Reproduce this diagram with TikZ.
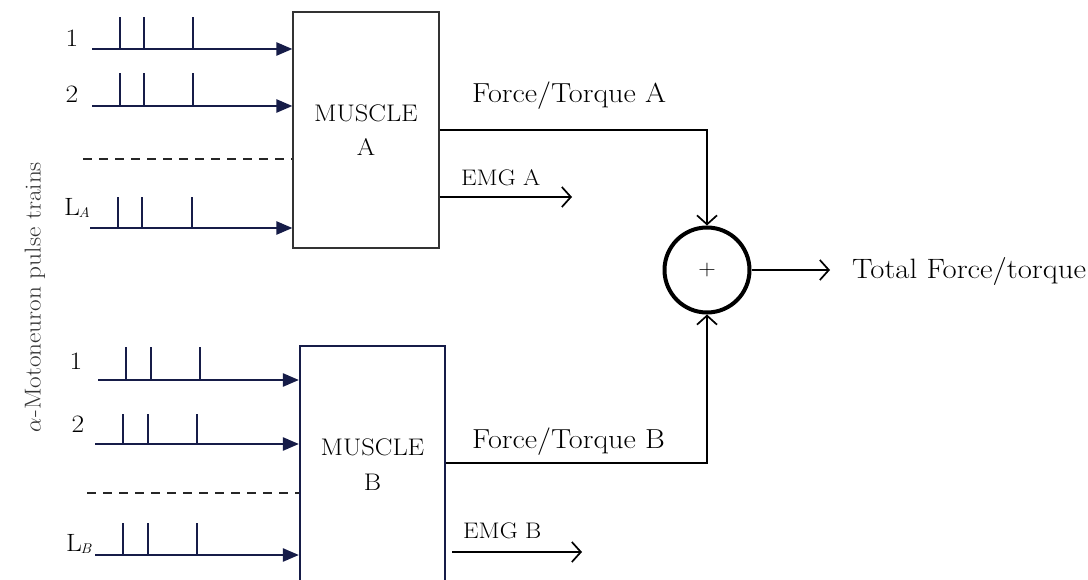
\RequirePackage{fix-cm}
\documentclass[tikz,border=0pt]{standalone}
\usepackage{fontspec}
\setmainfont{Latin Modern Roman}[FakeStretch=1.1]
\usetikzlibrary{arrows.meta}
\definecolor{navy}{RGB}{22,28,72}
\begin{document}
\begin{tikzpicture}[x=1pt,y=-1pt,
  inp/.style={draw=navy,line width=2.4pt,-{Triangle[length=16pt,width=13pt]}},
  spike/.style={draw=navy,line width=1.8pt},
  dsh/.style={draw=black!85,line width=2pt,dash pattern=on 9pt off 7pt},
  outl/.style={draw=black,line width=1.7pt},
  barb/.style={-{Straight Barb[length=9pt,width=20pt,line width=1.7pt]}},
  lbl/.style={font=\fontsize{27.5}{30}\selectfont,inner sep=0pt,anchor=base west},
  emg/.style={font=\fontsize{22.5}{26}\selectfont,inner sep=0pt,anchor=base west},
  num/.style={font=\fontsize{25}{28}\selectfont,inner sep=0pt,anchor=base},
  musA/.style={draw=black!80,line width=1.2pt,minimum width=146pt,minimum height=236pt,align=center,inner sep=0pt,font=\fontsize{24}{34}\selectfont},
  musB/.style={draw=navy,line width=2.2pt,minimum width=145pt,minimum height=238pt,align=center,inner sep=0pt,font=\fontsize{24}{35}\selectfont}]
\useasboundingbox (0,0) rectangle (1088,580);
\fill[white] (0,0) rectangle (1088,580);
\clip (0,0) rectangle (1088,580);

% boxes
\node[musA] (boxA) at (366,130) {MUSCLE\\A};
\node[musB] (boxB) at (372.5,465) {MUSCLE\\B};

% summing junction
\node[circle,draw=black,line width=4pt,minimum size=85pt,inner sep=0pt,font=\fontsize{22}{24}\selectfont] (sum) at (707,270) {+};

% vertical label
\node[rotate=90,font=\fontsize{23}{26}\selectfont,text=black!80,inner sep=0pt] (vlab) at (35,297) {$\alpha$-Motoneuron pulse trains};

% ---- inputs to muscle A
\coordinate (a1) at (92,49);
\coordinate (a2) at (92,106);
\coordinate (ad) at (83,159);
\coordinate (aL) at (90,228);
\draw[inp] (a1) -- (a1 -| boxA.west);
\draw[inp] (a2) -- (a2 -| boxA.west);
\draw[dsh] (ad) -- (ad -| boxA.west);
\draw[inp] (aL) -- (aL -| boxA.west);
\foreach \x in {120,144,193} {\draw[spike] (\x,49) -- (\x,17);}
\foreach \x in {120,144,193} {\draw[spike] (\x,106) -- (\x,73);}
\foreach \x in {118,142,192} {\draw[spike] (\x,228) -- (\x,197);}
\node[num] (nA1) at (72,47) {1};
\node[num] (nA2) at (72,103) {2};
\node[num,anchor=base west] (nAL) at (64,216) {L\kern-1.5pt\raisebox{-2pt}{\fontsize{14}{15}\selectfont\itshape A}};

% ---- inputs to muscle B
\coordinate (b1) at (98,380);
\coordinate (b2) at (95,444);
\coordinate (bd) at (87,493);
\coordinate (bL) at (95,555);
\draw[inp] (b1) -- (b1 -| boxB.west);
\draw[inp] (b2) -- (b2 -| boxB.west);
\draw[dsh] (bd) -- (bd -| boxB.west);
\draw[inp] (bL) -- (bL -| boxB.west);
\foreach \x in {126,151,200} {\draw[spike] (\x,380) -- (\x,347);}
\foreach \x in {123,148,197} {\draw[spike] (\x,444) -- (\x,414);}
\foreach \x in {123,148,197} {\draw[spike] (\x,555) -- (\x,523);}
\node[num] (nB1) at (76,370) {1};
\node[num] (nB2) at (78,432) {2};
\node[num,anchor=base west] (nBL) at (66,551) {L\kern-1.5pt\raisebox{-2pt}{\fontsize{14}{15}\selectfont\itshape B}};

% ---- outputs
\draw[outl,barb] (boxA.east |- 0,130) -| (sum);
\draw[outl,barb] (boxB.east |- 0,463) -| (sum);
\coordinate (emgAend) at (572,197);
\coordinate (emgBend) at (582,552);
\draw[outl,barb] (boxA.east |- emgAend) -- (emgAend);
\draw[outl,barb] (452,552) -- (emgBend);
\coordinate (totend) at (830,270);
\draw[outl,barb] (sum.east) -- (totend);

\node[lbl] (fA) at (472,103) {Force/Torque A};
\node[lbl] (fB) at (472,448) {Force/Torque B};
\node[emg] (eA) at (461,186) {EMG A};
\node[emg] (eB) at (463,538) {EMG B};
\node[lbl,font=\fontsize{28}{30}\selectfont] (tot) at (852,279) {Total Force/torque};
\end{tikzpicture}
\end{document}
